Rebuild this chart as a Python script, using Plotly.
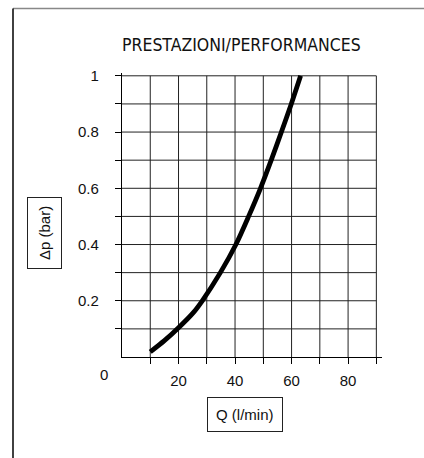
import plotly.graph_objects as go

# Data
flow_lpm = [10, 15, 20, 25, 28.4, 34.8, 40.3, 44.8, 49.0, 52.8, 56.4, 59.9, 63.2]
dp_bar = [0.018, 0.058, 0.104, 0.155, 0.2, 0.3, 0.4, 0.5, 0.6, 0.7, 0.8, 0.9, 1.0]

x_ticks = [10, 20, 30, 40, 50, 60, 70, 80, 90]
x_ticktext = ["", "20", "", "40", "", "60", "", "80", ""]
y_ticks = [0.1, 0.2, 0.3, 0.4, 0.5, 0.6, 0.7, 0.8, 0.9, 1.0]
y_ticktext = ["", "0.2", "", "0.4", "", "0.6", "", "0.8", "", "1"]

title_text = "PRESTAZIONI/PERFORMANCES"
x_title = "Q (l/min)"
y_title = "Δp (bar)"

OFF = 0  # page body margin removed via post_script
W, H = 424, 458
L, T = 122 - OFF, 73 - OFF
PW, PH = 260, 284
R, B = W - L - PW, H - T - PH


def px(xs):
    return (xs - OFF - L) / PW


def py(ys):
    return (T + PH - (ys - OFF)) / PH


fig = go.Figure()
fig.add_trace(go.Scatter(
    x=flow_lpm, y=dp_bar, mode="lines",
    line=dict(color="black", width=4.8, shape="spline", smoothing=0.8),
    hoverinfo="skip", showlegend=False,
))

shapes = []
for xv in x_ticks:
    shapes.append(dict(type="line", xref="x", yref="y", x0=xv, x1=xv, y0=0, y1=1.0,
                       line=dict(color="#222", width=1), layer="below"))
for yv in y_ticks:
    shapes.append(dict(type="line", xref="x", yref="y", x0=0, x1=90, y0=yv, y1=yv,
                       line=dict(color="#222", width=1), layer="below"))
# outer drawing frame
shapes.append(dict(type="line", xref="paper", yref="paper", x0=px(13), x1=px(424), y0=py(8.5), y1=py(8.5),
                   line=dict(color="#888", width=1.5)))
shapes.append(dict(type="line", xref="paper", yref="paper", x0=px(13), x1=px(13), y0=py(8.5), y1=py(458),
                   line=dict(color="#111", width=1.6)))

annotations = [
    dict(text=title_text, xref="paper", yref="paper", x=px(241), y=py(45),
         showarrow=False, xanchor="center", yanchor="middle",
         font=dict(family="DejaVu Sans Condensed, Liberation Sans, sans-serif", size=17.5, color="#111")),
    dict(text=x_title, xref="paper", yref="paper", x=px(245), y=py(414),
         showarrow=False, xanchor="center", yanchor="middle",
         bordercolor="#222", borderwidth=1, borderpad=8, bgcolor="white",
         font=dict(family="Liberation Sans, Arial, sans-serif", size=15, color="#111")),
    dict(text=y_title, xref="paper", yref="paper", x=px(44), y=py(233),
         showarrow=False, xanchor="center", yanchor="middle", textangle=-90,
         bordercolor="#222", borderwidth=1, borderpad=8, bgcolor="white",
         font=dict(family="Liberation Sans, Arial, sans-serif", size=15, color="#111")),
    dict(text="0", xref="paper", yref="paper", x=px(104), y=py(374),
         showarrow=False, xanchor="center", yanchor="middle",
         font=dict(family="Liberation Sans, Arial, sans-serif", size=15, color="#111")),
]

fig.update_layout(
    width=W, height=H,
    margin=dict(l=L, r=R, t=T, b=B),
    paper_bgcolor="white", plot_bgcolor="white",
    shapes=shapes, annotations=annotations,
    showlegend=False,
    xaxis=dict(range=[0, 92], showgrid=False, zeroline=False,
               showline=True, linecolor="black", linewidth=1.3,
               tickmode="array", tickvals=x_ticks, ticktext=x_ticktext,
               ticks="outside", ticklen=6, tickcolor="black", tickwidth=1,
               ticklabelstandoff=4,
               tickfont=dict(family="Liberation Sans, Arial, sans-serif", size=15, color="#111")),
    yaxis=dict(range=[0, 1.01], showgrid=False, zeroline=False,
               showline=True, linecolor="black", linewidth=1.3,
               tickmode="array", tickvals=y_ticks, ticktext=y_ticktext,
               ticks="outside", ticklen=6, tickcolor="black", tickwidth=1,
               ticklabelstandoff=13,
               tickfont=dict(family="Liberation Sans, Arial, sans-serif", size=15, color="#111")),
)

fig.write_html("out.html", config={"displayModeBar": False},
               post_script="document.body.style.margin='0';document.body.style.overflow='hidden';")
